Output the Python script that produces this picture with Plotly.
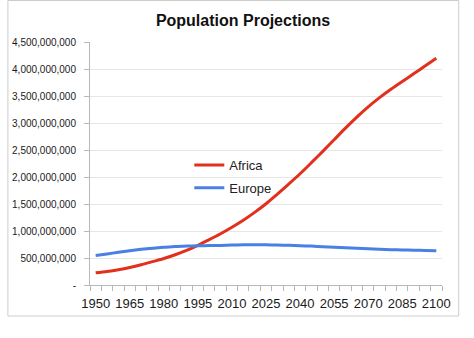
import plotly.graph_objects as go

# Population projections, 5-year steps
years = list(range(1950, 2101, 5))

africa = [0.228, 0.252, 0.284, 0.325, 0.375, 0.432, 0.490, 0.560, 0.640, 0.735,
          0.840, 0.950, 1.070, 1.200, 1.345, 1.505, 1.685, 1.870, 2.060, 2.265,
          2.475, 2.690, 2.905, 3.110, 3.300, 3.470, 3.625, 3.770, 3.910, 4.055, 4.200]
europe = [0.545, 0.575, 0.605, 0.635, 0.660, 0.680, 0.700, 0.712, 0.723, 0.728,
          0.730, 0.733, 0.740, 0.745, 0.746, 0.744, 0.740, 0.735, 0.728, 0.720,
          0.710, 0.700, 0.690, 0.680, 0.670, 0.662, 0.655, 0.650, 0.645, 0.640, 0.635]
africa = [v * 1e9 for v in africa]
europe = [v * 1e9 for v in europe]

x_labels = list(range(1950, 2101, 15))
y_ticks = [i * 500_000_000 for i in range(10)]
y_text = ["-" if v == 0 else f"{v:,}" for v in y_ticks]

W, H = 474, 338
L, R, T, B = 84, 32, 42, 53
pw, ph = W - L - R, H - T - B

fig = go.Figure()
fig.add_trace(go.Scatter(x=years, y=africa, name="Africa", mode="lines",
                         line=dict(color="#E2301C", width=3, shape="spline", smoothing=0.8),
                         legendgroup="a"))
fig.add_trace(go.Scatter(x=years, y=europe, name="Europe", mode="lines",
                         line=dict(color="#4A7FE3", width=3, shape="spline", smoothing=0.8),
                         legendgroup="e"))

font_family = "Liberation Sans, Arial, sans-serif"

fig.update_layout(
    width=W, height=H,
    margin=dict(l=L, r=R, t=T, b=B, pad=0),
    paper_bgcolor="white", plot_bgcolor="white",
    font=dict(family=font_family, color="#222222"),
    title=dict(text="<b>Population Projections</b>", x=(243) / W, xanchor="center",
               y=1 - 20 / H, yanchor="middle",
               font=dict(size=16, family=font_family, color="#111111")),
    showlegend=True,
    legend=dict(x=(185 - L) / pw, y=(H - B - 150) / ph, xanchor="left", yanchor="top",
                bgcolor="rgba(0,0,0,0)", font=dict(size=13, color="#222222"),
                traceorder="grouped", tracegroupgap=3, itemwidth=30),
    xaxis=dict(range=[1947.5, 2102.5], tickmode="array", tickvals=x_labels,
               ticktext=[str(v) for v in x_labels], ticks="", showgrid=False,
               showline=True, linecolor="#b8b8b8", linewidth=1,
               tickfont=dict(size=13, color="#1a1a1a"), ticklabelstandoff=6,
               minor=dict(tickmode="linear", tick0=1947.5, dtick=5, ticks="outside",
                          ticklen=5, tickcolor="#b8b8b8", showgrid=False),
               zeroline=False, fixedrange=True),
    yaxis=dict(range=[0, 4.5e9], tickmode="array", tickvals=y_ticks, ticktext=y_text,
               ticks="outside", ticklen=5, tickcolor="#b8b8b8",
               showgrid=True, gridcolor="#e6e6e6", gridwidth=1,
               showline=True, linecolor="#b8b8b8", linewidth=1,
               tickfont=dict(size=10, color="#1a1a1a"), ticklabelstandoff=6,
               zeroline=False, fixedrange=True),
)

# chart area frame
fig.add_shape(type="rect", xref="paper", yref="paper",
              x0=(0.5 - L) / pw, x1=(459 - L) / pw,
              y0=(H - B - 316) / ph, y1=(H - B - 0.5) / ph,
              line=dict(color="#cccccc", width=1), layer="below")

fig.write_html("out.html")
